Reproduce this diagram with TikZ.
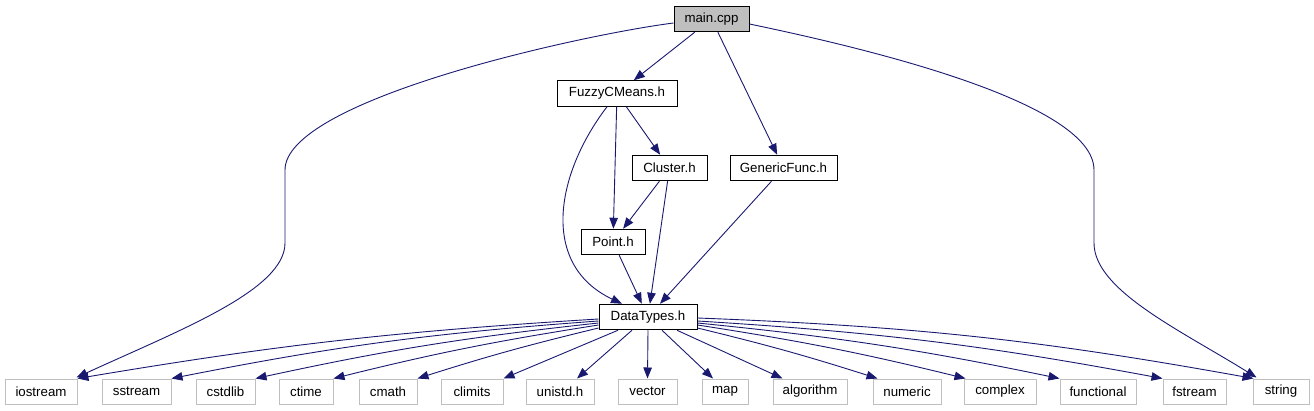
\documentclass[tikz,border=0pt]{standalone}
\usepackage{fontspec}
\setmainfont{Liberation Sans}
\usetikzlibrary{arrows.meta}
\definecolor{edgeblue}{HTML}{191970}
\definecolor{sysgray}{HTML}{BFBFBF}
\begin{document}
\begin{tikzpicture}[x=1pt,y=-1pt,
  every node/.style={font=\fontsize{13.3}{16}\selectfont, inner sep=0pt, minimum height=25.5pt},
  hdr/.style={draw=black, line width=1pt, fill=white},
  sys/.style={draw=sysgray, line width=1pt, fill=white, minimum height=25pt},
  e/.style={draw=edgeblue, line width=0.9pt, -{Triangle[length=11pt,width=8.5pt]}}
]
\useasboundingbox (0,0) rectangle (1314,411);
% header nodes
\node[hdr, fill=sysgray, minimum width=75pt] (main) at (711.5,19) {main.cpp};
\node[hdr, minimum width=120pt] (fuzzy) at (617,93.5) {FuzzyCMeans.h};
\node[hdr, minimum width=75pt] (cluster) at (669.5,168) {Cluster.h};
\node[hdr, minimum width=107pt] (generic) at (783.5,168) {GenericFunc.h};
\node[hdr, minimum width=64pt] (point) at (613,242) {Point.h};
\node[hdr, minimum width=98pt] (dt) at (648,317) {DataTypes.h};
% system headers
\node[sys, minimum width=72pt] (iostream) at (41,391.5) {iostream};
\node[sys, minimum width=69pt] (sstream) at (136.5,391.5) {sstream};
\node[sys, minimum width=59pt] (cstdlib) at (225.5,391.5) {cstdlib};
\node[sys, minimum width=54pt] (ctime) at (306,391.5) {ctime};
\node[sys, minimum width=58pt] (cmath) at (388,391.5) {cmath};
\node[sys, minimum width=62pt] (climits) at (472,391.5) {climits};
\node[sys, minimum width=68pt] (unistd) at (560,391.5) {unistd.h};
\node[sys, minimum width=59pt] (vector) at (647.5,391.5) {vector};
\node[sys, minimum width=46pt] (map) at (725,391.5) {map};
\node[sys, minimum width=74pt] (algorithm) at (810,391.5) {algorithm};
\node[sys, minimum width=68pt] (numeric) at (907,391.5) {numeric};
\node[sys, minimum width=72pt] (complex) at (1000,391.5) {complex};
\node[sys, minimum width=76pt] (functional) at (1098,391.5) {functional};
\node[sys, minimum width=63pt] (fstream) at (1194.5,391.5) {fstream};
\node[sys, minimum width=56pt] (string) at (1281,391.5) {string};
% waypoints
\coordinate (lw1) at (285,170);
\coordinate (lw2) at (285,243);
\coordinate (rw1) at (1094,170);
\coordinate (rw2) at (1094,243);
% main edges
\draw[e] (main) -- (fuzzy);
\draw[e] (main) -- (generic);
\draw[e] ([yshift=-4pt]main.west) .. controls (580,35) and (285,100) .. (lw1) -- (lw2)
   .. controls (285,290) and (180,330) .. ([xshift=-1pt,yshift=1pt]iostream.north east);
\draw[e] ([yshift=-5pt]main.east) .. controls (850,45) and (1094,100) .. (rw1) -- (rw2)
   .. controls (1094,290) and (1180,330) .. ([xshift=4pt,yshift=1pt]string.north west);
% middle edges
\draw[e] (fuzzy) -- (cluster);
\draw[e] (fuzzy) -- (point);
\draw[e] ([xshift=-10pt]fuzzy.south) .. controls (555,175) and (540,265) .. ([xshift=-26pt]dt.north);
\draw[e] (cluster) -- (point);
\draw[e] (cluster) -- (dt);
\draw[e] (point) -- (dt);
\draw[e] (generic) -- (dt);
% fan from DataTypes.h
\draw[e] ([yshift=-2pt]dt.west) to[bend right=3] (iostream.north east);
\draw[e] ([yshift=-4pt]dt.west) to[bend right=3.5] (sstream.north east);
\draw[e] ([yshift=-6pt]dt.west) to[bend right=3] (cstdlib.north east);
\draw[e] ([yshift=-8pt]dt.west) to[bend right=2.5] (ctime.north east);
\draw[e] ([yshift=-11pt]dt.west) to[bend right=2] (cmath.north east);
\draw[e] ([xshift=-30pt]dt.south) -- (climits.north east);
\draw[e] ([xshift=-16pt]dt.south) -- ([xshift=17pt]unistd.north);
\draw[e] (dt.south) -- (vector.north);
\draw[e] ([xshift=14pt]dt.south) -- ([xshift=-12pt]map.north);
\draw[e] ([xshift=29pt]dt.south) -- ([xshift=10pt]algorithm.north west);
\draw[e] ([yshift=-11pt]dt.east) to[bend left=2] ([xshift=5pt]numeric.north west);
\draw[e] ([yshift=-8pt]dt.east) to[bend left=2.5] ([xshift=2pt]complex.north west);
\draw[e] ([yshift=-6pt]dt.east) to[bend left=3] (functional.north west);
\draw[e] ([yshift=-4pt]dt.east) to[bend left=3.5] (fstream.north west);
\draw[e] ([yshift=-1pt]dt.east) to[bend left=4] ([xshift=1pt]string.north west);
\end{tikzpicture}
\end{document}
